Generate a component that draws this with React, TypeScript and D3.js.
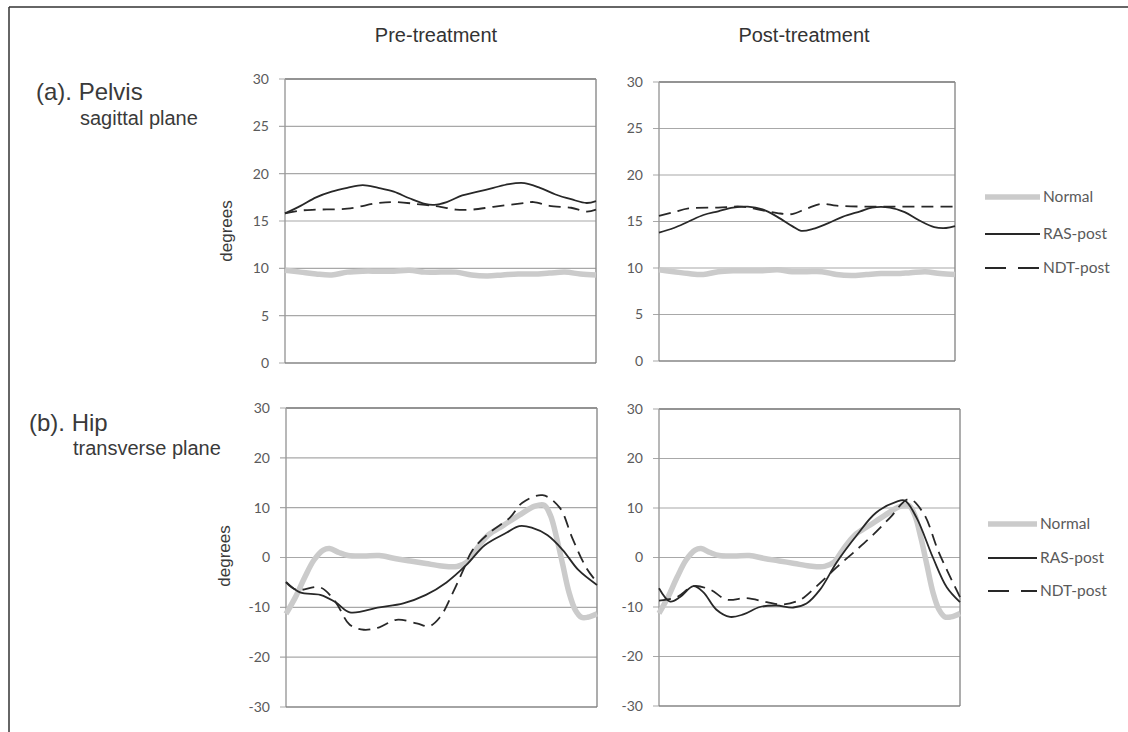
import React from "react";
import * as d3 from "d3";

// gait cycle (%) , degrees
const normalPelvis: [number, number][] = [
  [0, 9.8], [5, 9.6], [10, 9.4], [15, 9.3], [20, 9.6], [25, 9.7], [30, 9.7],
  [35, 9.7], [40, 9.8], [45, 9.6], [50, 9.6], [55, 9.6], [60, 9.3], [65, 9.2],
  [70, 9.3], [75, 9.4], [80, 9.4], [85, 9.5], [90, 9.6], [95, 9.4], [100, 9.3],
];
const rasPrePelvis: [number, number][] = [
  [0, 15.8], [5, 16.6], [10, 17.5], [15, 18.1], [20, 18.5], [25, 18.8], [30, 18.5],
  [35, 18.1], [40, 17.4], [45, 16.8], [48, 16.7], [52, 17.0], [57, 17.7], [62, 18.1],
  [67, 18.5], [72, 18.9], [77, 19.0], [82, 18.5], [87, 17.8], [92, 17.3], [97, 16.9], [100, 17.1],
];
const ndtPrePelvis: [number, number][] = [
  [0, 15.8], [5, 16.1], [10, 16.2], [20, 16.3], [30, 16.9], [35, 17.0], [45, 16.7],
  [50, 16.5], [55, 16.2], [60, 16.2], [67, 16.5], [77, 16.9], [80, 17.0], [85, 16.6],
  [92, 16.4], [97, 16.0], [100, 16.2],
];
const rasPostPelvis: [number, number][] = [
  [0, 13.8], [5, 14.3], [10, 15.0], [15, 15.7], [20, 16.1], [25, 16.5], [30, 16.6],
  [35, 16.3], [40, 15.5], [45, 14.5], [48, 14.0], [52, 14.2], [57, 14.8], [62, 15.5],
  [68, 16.1], [72, 16.5], [78, 16.5], [83, 16.0], [88, 15.1], [93, 14.4], [97, 14.3], [100, 14.5],
];
const ndtPostPelvis: [number, number][] = [
  [0, 15.6], [5, 16.0], [10, 16.4], [20, 16.5], [28, 16.6], [35, 16.2], [40, 15.9],
  [45, 15.8], [50, 16.4], [55, 16.9], [60, 16.7], [70, 16.6], [80, 16.6], [90, 16.6], [100, 16.6],
];

const normalHip: [number, number][] = [
  [0, -11.3], [3, -8], [6, -4], [9, -0.5], [12, 1.5], [14, 1.8], [17, 1.0], [20, 0.4],
  [25, 0.3], [30, 0.4], [35, -0.2], [40, -0.7], [45, -1.2], [50, -1.7], [55, -1.8],
  [58, -1.0], [61, 1.5], [65, 4.5], [70, 6.5], [75, 8.5], [80, 10.3], [83, 10.5],
  [85, 8.5], [87, 4], [89, -1.5], [91, -7], [93, -10.5], [95, -12], [97, -12], [100, -11.3],
];
const rasPreHip: [number, number][] = [
  [0, -4.9], [4.5, -7.0], [11, -7.5], [16, -9.0], [20.5, -11.0], [30, -10.0],
  [37.7, -9.2], [45, -7.5], [51.6, -5.0], [58, -1.5], [64, 2.5], [71, 5.0], [75, 6.3],
  [79, 6.0], [84, 4.5], [89, 1.5], [94, -2.5], [100, -5.5],
];
const ndtPreHip: [number, number][] = [
  [0, -5], [3.4, -6.5], [11, -6.0], [16, -9], [20.5, -13.5], [25, -14.5], [30, -14],
  [35.5, -12.5], [42, -13.2], [46, -13.8], [49.5, -12], [53.7, -7], [57, -2.5], [60, 1.5],
  [65.5, 5], [72, 8], [76, 11], [82.5, 12.5], [88, 10], [92, 4], [96.5, -2], [100, -5],
];
const rasPostHip: [number, number][] = [
  [0, -6.2], [3.7, -8.9], [7, -8], [11.4, -5.8], [14.7, -7], [19, -10.5], [23.6, -12.0],
  [28, -11.5], [33.5, -10.0], [39, -9.7], [44.6, -10.1], [49, -9.3], [53.5, -6.5],
  [59, -1.0], [65.7, 4.5], [72, 9], [79, 11.3], [81.7, 11.5], [85.6, 8], [91, 0],
  [95.6, -6], [100, -9],
];
const ndtPostHip: [number, number][] = [
  [0, -8.7], [5.9, -8], [11.4, -5.8], [17, -6.5], [22.5, -8.5], [29, -8.2], [35.8, -9],
  [41, -9.5], [47, -8.5], [52, -6], [59, -2.0], [64.6, 1.0], [71, 4.5], [76.7, 8],
  [83, 11.8], [87.8, 9], [93, 1], [100, -8],
];

const pelvisTicks = [0, 5, 10, 15, 20, 25, 30];
const hipTicks = [-30, -20, -10, 0, 10, 20, 30];
const legendLabels = ["Normal", "RAS-post", "NDT-post"];

const NORMAL = "#cbcbcb";
const DARK = "#282828";
const GRID = "#a8a8a8";
const TICKTXT = "#5a5a5a";
const SANS = "'Liberation Sans', Arial, sans-serif";
const LABEL = "Lato, 'Open Sans', sans-serif";

type Panel = {
  x0: number; x1: number; y0: number; y1: number;
  domain: [number, number]; ticks: number[];
  series: { data: [number, number][]; kind: number }[];
};

const panels: Panel[] = [
  { x0: 285, x1: 596, y0: 79, y1: 363, domain: [0, 30], ticks: pelvisTicks,
    series: [{ data: normalPelvis, kind: 0 }, { data: rasPrePelvis, kind: 1 }, { data: ndtPrePelvis, kind: 2 }] },
  { x0: 659, x1: 955, y0: 82, y1: 361, domain: [0, 30], ticks: pelvisTicks,
    series: [{ data: normalPelvis, kind: 0 }, { data: rasPostPelvis, kind: 1 }, { data: ndtPostPelvis, kind: 2 }] },
  { x0: 286, x1: 597, y0: 408, y1: 707, domain: [-30, 30], ticks: hipTicks,
    series: [{ data: normalHip, kind: 0 }, { data: rasPreHip, kind: 1 }, { data: ndtPreHip, kind: 2 }] },
  { x0: 659, x1: 960, y0: 409, y1: 706, domain: [-30, 30], ticks: hipTicks,
    series: [{ data: normalHip, kind: 0 }, { data: rasPostHip, kind: 1 }, { data: ndtPostHip, kind: 2 }] },
];

const styleOf = (kind: number) =>
  kind === 0
    ? { stroke: NORMAL, strokeWidth: 5.5, dash: undefined }
    : kind === 1
    ? { stroke: DARK, strokeWidth: 1.8, dash: undefined }
    : { stroke: DARK, strokeWidth: 1.8, dash: "12,7" };

function PanelView({ p }: { p: Panel }) {
  const x = d3.scaleLinear().domain([0, 100]).range([p.x0, p.x1]);
  const y = d3.scaleLinear().domain(p.domain).range([p.y1, p.y0]);
  const line = d3
    .line<[number, number]>()
    .x((d) => x(d[0]))
    .y((d) => y(d[1]))
    .curve(d3.curveCatmullRom.alpha(0.5));
  return (
    <g>
      {p.ticks.map((t) => (
        <g key={t}>
          <line x1={p.x0 - 6} x2={p.x1} y1={y(t)} y2={y(t)} stroke={GRID} strokeWidth={1.2} />
          <text x={p.x0 - 16} y={y(t)} dy="0.35em" textAnchor="end" fontFamily={LABEL}
            fontSize={14} fill={TICKTXT}>{t}</text>
        </g>
      ))}
      {/* plot-area border */}
      <line x1={p.x0} x2={p.x1} y1={p.y0} y2={p.y0} stroke="#555" strokeWidth={1.2} />
      <line x1={p.x1} x2={p.x1} y1={p.y0} y2={p.y1} stroke="#8a8a8a" strokeWidth={1.4} />
      <line x1={p.x0} x2={p.x0} y1={p.y0} y2={p.y1} stroke="#9a9a9a" strokeWidth={1.4} />
      <line x1={p.x0} x2={p.x1} y1={p.y1} y2={p.y1} stroke="#777" strokeWidth={1.2} />
      {p.series.map((s, i) => {
        const st = styleOf(s.kind);
        return (
          <path key={i} d={line(s.data) || ""} fill="none" stroke={st.stroke}
            strokeWidth={st.strokeWidth} strokeDasharray={st.dash} strokeLinejoin="round" />
        );
      })}
    </g>
  );
}

function Legend({ x0, x1, ys }: { x0: number; x1: number; ys: number[] }) {
  return (
    <g>
      {legendLabels.map((lab, i) => {
        const st = styleOf(i);
        return (
          <g key={lab}>
            <line x1={x0} x2={x1} y1={ys[i]} y2={ys[i]} stroke={st.stroke}
              strokeWidth={i === 0 ? 5.5 : 2} strokeDasharray={i === 2 ? "21,12" : undefined} />
            <text x={x1 + 3} y={ys[i]} dy="0.35em" fontFamily={LABEL} fontSize={15.5} fill={TICKTXT}>
              {lab}
            </text>
          </g>
        );
      })}
    </g>
  );
}

export default function App() {
  return (
    <svg width={1128} height={732} style={{ position: "absolute", left: 0, top: 0, background: "#fff" }}>
      <rect x={0} y={0} width={1128} height={732} fill="#fff" />
      <line x1={9} x2={1128} y1={7} y2={7} stroke="#333" strokeWidth={1.5} />
      <line x1={9} x2={9} y1={7} y2={732} stroke="#333" strokeWidth={1.5} />

      <text x={436} y={42} textAnchor="middle" fontFamily={SANS} fontSize={20} fill="#333">Pre-treatment</text>
      <text x={804} y={42} textAnchor="middle" fontFamily={SANS} fontSize={20} fill="#333">Post-treatment</text>

      <text x={36} y={100} fontFamily={SANS} fontSize={24} fill="#3a3a3a">(a). Pelvis</text>
      <text x={80} y={125} fontFamily={SANS} fontSize={20} fill="#3a3a3a">sagittal plane</text>
      <text x={29} y={431} fontFamily={SANS} fontSize={24} fill="#3a3a3a">(b). Hip</text>
      <text x={73} y={455} fontFamily={SANS} fontSize={20} fill="#3a3a3a">transverse plane</text>

      <text transform="translate(232,231) rotate(-90)" textAnchor="middle" fontFamily={SANS}
        fontSize={17} fill="#3a3a3a">degrees</text>
      <text transform="translate(230,556) rotate(-90)" textAnchor="middle" fontFamily={SANS}
        fontSize={17} fill="#3a3a3a">degrees</text>

      {panels.map((p, i) => (
        <PanelView key={i} p={p} />
      ))}

      <Legend x0={985} x1={1040} ys={[197, 234, 268]} />
      <Legend x0={988} x1={1037} ys={[524, 558, 591]} />
    </svg>
  );
}
